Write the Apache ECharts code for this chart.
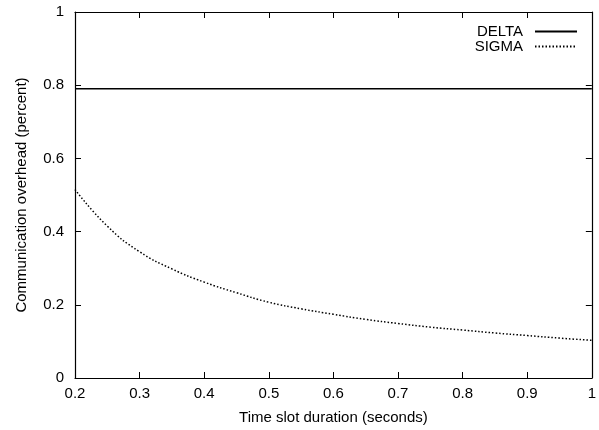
<!DOCTYPE html>
<html>
<head>
<meta charset="utf-8">
<script src="https://cdn.jsdelivr.net/npm/echarts@6/dist/echarts.min.js"></script>
<style>html,body{margin:0;padding:0;background:#fff;}#c{width:599px;height:430px;}</style>
</head>
<body>
<div id="c"></div>
<script>
var timeSlots = [0.2,0.25,0.3,0.35,0.4,0.45,0.5,0.55,0.6,0.65,0.7,0.75,0.8,0.85,0.9,0.95,1.0];
var sigmaValues = [0.515,0.415,0.345,0.298,0.262,0.233,0.207,0.189,0.174,0.160,0.149,0.139,0.131,0.123,0.116,0.109,0.103];
var deltaValues = [0.79,0.79,0.79,0.79,0.79,0.79,0.79,0.79,0.79,0.79,0.79,0.79,0.79,0.79,0.79,0.79,0.79];
var seriesNames = ['DELTA','SIGMA'];
var xTitle = 'Time slot duration (seconds)';
var yTitle = 'Communication overhead (percent)';

function pairs(xs, ys){ return xs.map(function(x,i){return [x, ys[i]];}); }
var font = 'Liberation Sans, Arial, sans-serif';
var fs = 15;
var fmt = function(v){ return String(Number(v.toFixed(1))); };
var axLine = {show:true, onZero:false, lineStyle:{color:'#000', width:1.2}};
var tick = {show:true, inside:true, length:6, lineStyle:{color:'#000'}};

var chart = echarts.init(document.getElementById('c'), null, {renderer:'canvas'});
chart.setOption({
  animation:false,
  textStyle:{fontFamily:font},
  grid:{left:75, right:4, top:12, bottom:50, containLabel:false},
  legend:{
    orient:'vertical', right:16, top:19, align:'right', itemGap:0,
    itemWidth:42, itemHeight:8,
    itemStyle:{opacity:0},
    textStyle:{fontFamily:font, fontSize:fs, color:'#000', padding:[0,7,0,0]},
    data:seriesNames
  },
  xAxis:[{
    type:'value', min:0.2, max:1, interval:0.1, position:'bottom',
    name:xTitle, nameLocation:'middle', nameGap:32,
    nameTextStyle:{fontFamily:font, fontSize:fs, color:'#000'},
    axisLine:axLine, axisTick:tick, splitLine:{show:false},
    axisLabel:{formatter:fmt, fontFamily:font, fontSize:fs, color:'#000', margin:8}
  },{
    type:'value', min:0.2, max:1, interval:0.1, position:'top',
    axisLine:axLine, axisTick:tick, splitLine:{show:false}, axisLabel:{show:false}
  }],
  yAxis:[{
    type:'value', min:0, max:1, interval:0.2, position:'left',
    name:yTitle, nameLocation:'middle', nameGap:46, nameRotate:90,
    nameTextStyle:{fontFamily:font, fontSize:fs, color:'#000'},
    axisLine:axLine, axisTick:tick, splitLine:{show:false},
    axisLabel:{formatter:fmt, fontFamily:font, fontSize:fs, color:'#000', margin:11}
  },{
    type:'value', min:0, max:1, interval:0.2, position:'right',
    axisLine:axLine, axisTick:tick, splitLine:{show:false}, axisLabel:{show:false}
  }],
  series:[{
    name:seriesNames[0], type:'line', xAxisIndex:1, yAxisIndex:1, data:pairs(timeSlots, deltaValues),
    symbol:'none', lineStyle:{color:'#000', width:1.5, type:'solid'},
    itemStyle:{color:'#000'}
  },{
    name:seriesNames[1], type:'line', smooth:true, data:pairs(timeSlots, sigmaValues),
    symbol:'none', lineStyle:{color:'#000', width:1.5, type:[1.5,2]},
    itemStyle:{color:'#000'}
  }]
});
</script>
</body>
</html>
